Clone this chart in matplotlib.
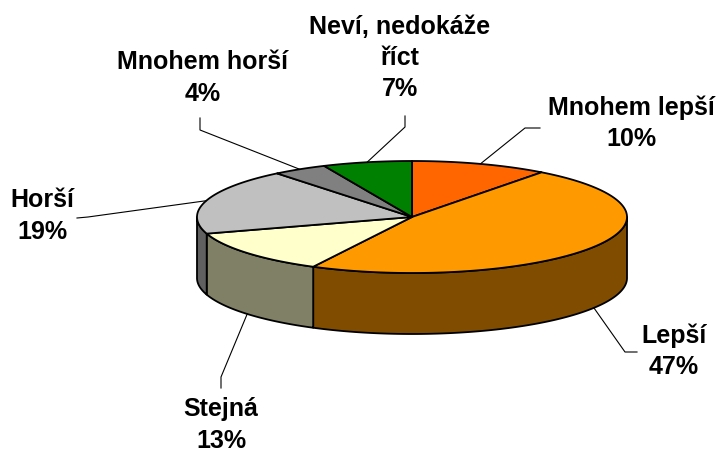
import numpy as np
import matplotlib
matplotlib.use("Agg")
import matplotlib.pyplot as plt
from matplotlib.patches import Polygon

# ---- data ----
labels = ["Mnohem lepší", "Lepší", "Stejná", "Horší", "Mnohem horší", "Neví, nedokáže\nříct"]
values = [10.3, 47.3, 12.6, 19.0, 4.1, 6.7]
top_colors = ["#FF6600", "#FF9900", "#FFFFCC", "#C0C0C0", "#808080", "#008000"]
side_colors = ["#803300", "#7F4C00", "#808066", "#606060", "#404040", "#004000"]

# ---- layout (pixels) ----
W, H = 721, 453
cx, cy, rx, ry, depth = 412, 217, 215, 56, 61
# label block centers and leader elbow points
label_pos = [(631, 123), (674, 351), (221, 425), (42, 216), (203, 78), (400, 58)]
elbows = [[(525, 128), (540, 128)],
          [(625, 352), (637, 352)],
          [(221, 377), (221, 388)],
          [(88, 217), (77, 218)],
          [(200, 130), (200, 118)],
          [(405, 127), (405, 116)]]

fig = plt.figure(figsize=(W / 100, H / 100), dpi=100)
ax = fig.add_axes([0, 0, 1, 1])
ax.set_xlim(0, W)
ax.set_ylim(H, 0)
ax.axis("off")


def pt(theta_deg, dy=0.0):
    t = np.radians(theta_deg)
    return np.column_stack([cx + rx * np.sin(t), cy - ry * np.cos(t) + dy])


total = float(sum(values))
bounds = np.concatenate([[0], np.cumsum(values)]) / total * 360.0
lw = 1.3

# side walls (front half: 90..270 deg clockwise from top)
for i in range(len(values)):
    a, b = max(bounds[i], 90), min(bounds[i + 1], 270)
    if b <= a:
        continue
    th = np.linspace(a, b, 200)
    upper = pt(th)
    lower = pt(th[::-1], depth)
    poly = Polygon(np.vstack([upper, lower]), closed=True, facecolor=side_colors[i],
                   edgecolor="black", linewidth=lw, joinstyle="round", zorder=2)
    ax.add_patch(poly)

# top faces
for i in range(len(values)):
    th = np.linspace(bounds[i], bounds[i + 1], 300)
    arc = pt(th)
    verts = np.vstack([[cx, cy], arc])
    poly = Polygon(verts, closed=True, facecolor=top_colors[i], edgecolor="black",
                   linewidth=lw, joinstyle="round", zorder=3)
    ax.add_patch(poly)

# labels and leaders
for i in range(len(values)):
    mid = (bounds[i] + bounds[i + 1]) / 2
    dy = depth if 90 < mid < 270 else 0
    start = pt(np.array([mid]), dy)[0]
    pts = np.vstack([start, elbows[i]])
    ax.plot(pts[:, 0], pts[:, 1], color="black", linewidth=0.8, zorder=4)
    pct = int(round(values[i] / total * 100))
    lx, ly = label_pos[i]
    ax.text(lx, ly, f"{labels[i]}\n{pct}%", ha="center", va="center",
            multialignment="center", fontsize=18, fontweight="bold",
            family=["Liberation Sans", "DejaVu Sans"], linespacing=1.37, zorder=5)

fig.savefig("out.png", dpi=100, facecolor="white")
